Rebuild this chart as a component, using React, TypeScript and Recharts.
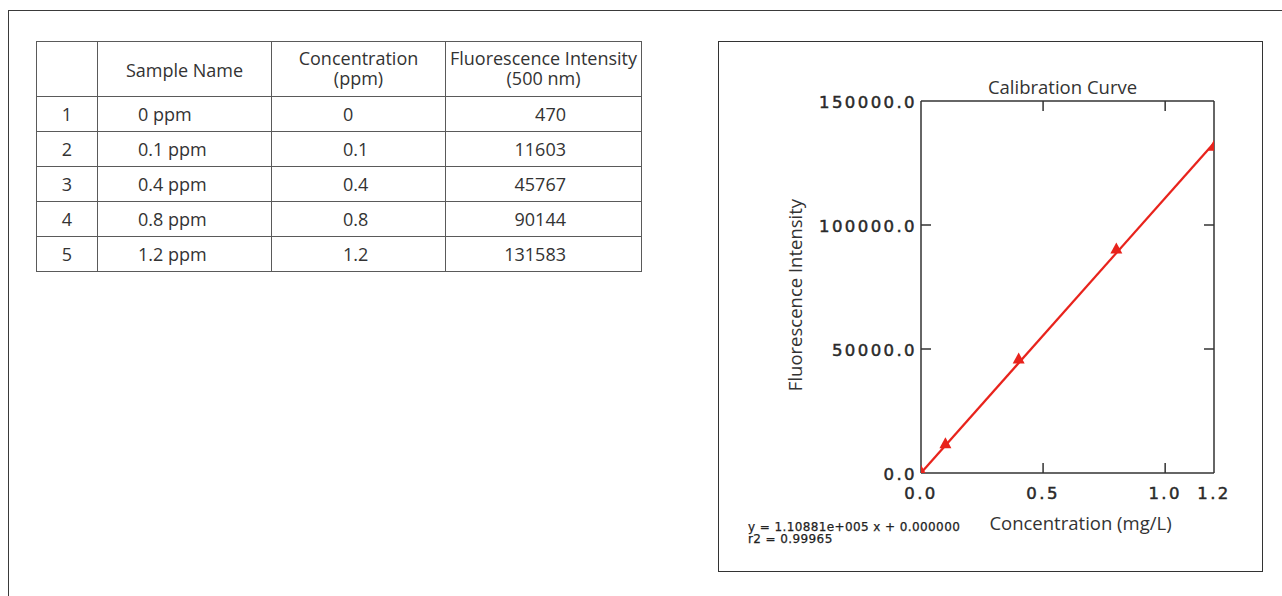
import React from 'react';
import { ComposedChart, XAxis, YAxis, Line, Scatter, Label } from 'recharts';

const sampleIds = ['1', '2', '3', '4', '5'];
const sampleNames = ['0 ppm', '0.1 ppm', '0.4 ppm', '0.8 ppm', '1.2 ppm'];
const concentrationLabels = ['0', '0.1', '0.4', '0.8', '1.2'];
const concentration = [0, 0.1, 0.4, 0.8, 1.2];
const intensity = [470, 11603, 45767, 90144, 131583];
const fitX = [0, 1.2];
const fitY = [0, 133057];
const xTicks = [0, 0.5, 1.0, 1.2];
const xInnerTicks = [0.5, 1.0];
const yTicks = [0, 50000, 100000, 150000];
const yInnerTicks = [50000, 100000];
const equationLines = ['y = 1.10881e+005 x + 0.000000', 'r2 = 0.99965'];

const points = concentration.map((c, i) => ({ x: c, y: intensity[i] }));
const fitLine = fitX.map((x, i) => ({ x, y: fitY[i] }));

const RED = '#e8231c';
const AXIS = '#333';
const TICK_FONT = '"DejaVu Sans", sans-serif';
const LABEL_FONT = '"Open Sans", sans-serif';

const Triangle = (props: any) => {
  const { cx, cy } = props;
  if (cx == null || cy == null) return null;
  return <path d={`M${cx},${cy - 7} L${cx + 6},${cy + 4} L${cx - 6},${cy + 4} Z`} fill={RED} />;
};

const tickText = {
  fontFamily: TICK_FONT,
  fontSize: 16.5,
  fontWeight: 400,
  letterSpacing: 2.4,
  fill: '#2a2a2a',
  stroke: '#2a2a2a',
  strokeWidth: 0.5,
};

const BottomTick = (props: any) => {
  const { x, y, payload } = props;
  const axisY = y;
  const inner = xInnerTicks.includes(payload.value);
  return (
    <g>
      {inner && <line x1={x} x2={x} y1={axisY} y2={axisY - 10} stroke={AXIS} strokeWidth={1.5} />}
      <text x={x} y={axisY + 20} textAnchor="middle" dominantBaseline="central" {...tickText}>
        {Number(payload.value).toFixed(1)}
      </text>
    </g>
  );
};

const TopTick = (props: any) => {
  const { x, y } = props;
  return <line x1={x} x2={x} y1={y} y2={y + 10} stroke={AXIS} strokeWidth={1.5} />;
};

const LeftTick = (props: any) => {
  const { x, y, payload } = props;
  const inner = yInnerTicks.includes(payload.value);
  return (
    <g>
      {inner && <line x1={x} x2={x + 10} y1={y} y2={y} stroke={AXIS} strokeWidth={1.5} />}
      <text x={x - 4} y={y + 1} textAnchor="end" dominantBaseline="central" {...tickText}>
        {Number(payload.value).toFixed(1)}
      </text>
    </g>
  );
};

const RightTick = (props: any) => {
  const { x, y } = props;
  return <line x1={x} x2={x - 10} y1={y} y2={y} stroke={AXIS} strokeWidth={1.5} />;
};

const cellBase: React.CSSProperties = {
  border: '1px solid #5a5a5a',
  padding: 0,
  height: 34,
  fontFamily: LABEL_FONT,
  fontSize: 18,
  color: '#333',
  lineHeight: '18px',
  verticalAlign: 'middle',
  boxSizing: 'border-box',
};

const headCell: React.CSSProperties = { ...cellBase, height: 55, fontWeight: 400, textAlign: 'center' };

export default function App() {
  return (
    <div style={{ position: 'absolute', left: 0, top: 0, width: 1282, height: 596, background: '#fff', overflow: 'hidden' }}>
      <div style={{ position: 'absolute', left: 8, top: 10, width: 1320, height: 640, border: '1px solid #3a3a3a', boxSizing: 'border-box' }} />
      <table
        style={{
          position: 'absolute',
          left: 36,
          top: 41,
          width: 606,
          borderCollapse: 'collapse',
          tableLayout: 'fixed',
        }}
      >
        <colgroup>
          <col style={{ width: 61 }} />
          <col style={{ width: 174 }} />
          <col style={{ width: 174 }} />
          <col style={{ width: 196 }} />
        </colgroup>
        <thead>
          <tr style={{ height: 55 }}>
            <th style={headCell}></th>
            <th style={{ ...headCell, paddingTop: 2 }}>Sample Name</th>
            <th style={{ ...headCell, lineHeight: '20px', paddingBottom: 3 }}>
              Concentration
              <br />
              (ppm)
            </th>
            <th style={{ ...headCell, lineHeight: '20px', paddingBottom: 3 }}>
              Fluorescence Intensity
              <br />
              (500 nm)
            </th>
          </tr>
        </thead>
        <tbody>
          {sampleIds.map((id, i) => (
            <tr key={id} style={{ height: 35 }}>
              <td style={{ ...cellBase, textAlign: 'center' }}>{id}</td>
              <td style={{ ...cellBase, textAlign: 'left', paddingLeft: 40 }}>{sampleNames[i]}</td>
              <td style={{ ...cellBase, textAlign: 'left', paddingLeft: 71 }}>{concentrationLabels[i]}</td>
              <td style={{ ...cellBase, textAlign: 'right', paddingRight: 75 }}>{intensity[i]}</td>
            </tr>
          ))}
        </tbody>
      </table>

      <div style={{ position: 'absolute', left: 718, top: 41, width: 545, height: 531, border: '1px solid #333', boxSizing: 'border-box' }}>
        <ComposedChart width={543} height={529} margin={{ top: 58, right: 47, bottom: 97, left: 201 }}>
          <XAxis
            xAxisId="b"
            dataKey="x"
            type="number"
            domain={[0, 1.2]}
            ticks={xTicks}
            allowDataOverflow
            height={1}
            tickSize={0}
            tickMargin={0}
            tick={<BottomTick />}
            axisLine={{ stroke: AXIS, strokeWidth: 1.5 }}
            tickLine={false}
            interval={0}
          >
            <Label
              content={(p: any) => {
                const vb = p.viewBox;
                return (
                  <g>
                    <text x={vb.x + vb.width / 2 + 13} y={vb.y + 49} textAnchor="middle" dominantBaseline="central" fontFamily={LABEL_FONT} fontSize={18.5} fill="#333">
                      Concentration (mg/L)
                    </text>
                    {equationLines.map((t, i) => (
                      <text key={t} x={vb.x - 173} y={vb.y + 54 + i * 12} fontFamily={TICK_FONT} fontSize={12} letterSpacing={0.4} dominantBaseline="central" fill="#222" stroke="#222" strokeWidth={0.25}>
                        {t}
                      </text>
                    ))}
                  </g>
                );
              }}
            />
          </XAxis>
          <XAxis
            xAxisId="t"
            dataKey="x"
            type="number"
            orientation="top"
            domain={[0, 1.2]}
            ticks={xInnerTicks}
            allowDataOverflow
            height={1}
            tickSize={0}
            tickMargin={0}
            tick={<TopTick />}
            axisLine={{ stroke: AXIS, strokeWidth: 1.5 }}
            tickLine={false}
            interval={0}
          >
            <Label
              content={(p: any) => {
                const vb = p.viewBox;
                return (
                  <text x={vb.x + vb.width / 2 - 5} y={vb.y - 14} textAnchor="middle" dominantBaseline="central" fontFamily={LABEL_FONT} fontSize={18.5} fill="#333">
                    Calibration Curve
                  </text>
                );
              }}
            />
          </XAxis>
          <YAxis
            yAxisId="l"
            type="number"
            domain={[0, 150000]}
            ticks={yTicks}
            allowDataOverflow
            width={1}
            tickSize={0}
            tickMargin={0}
            tick={<LeftTick />}
            axisLine={{ stroke: AXIS, strokeWidth: 1.5 }}
            tickLine={false}
            interval={0}
          >
            <Label
              content={(p: any) => {
                const vb = p.viewBox;
                const cx = vb.x - 126;
                const cy = vb.y + vb.height / 2 + 8;
                return (
                  <text x={cx} y={cy} transform={`rotate(-90 ${cx} ${cy})`} textAnchor="middle" dominantBaseline="central" fontFamily={LABEL_FONT} fontSize={18.5} fill="#333">
                    Fluorescence Intensity
                  </text>
                );
              }}
            />
          </YAxis>
          <YAxis
            yAxisId="r"
            orientation="right"
            type="number"
            domain={[0, 150000]}
            ticks={yInnerTicks}
            allowDataOverflow
            width={1}
            tickSize={0}
            tickMargin={0}
            tick={<RightTick />}
            axisLine={{ stroke: AXIS, strokeWidth: 1.5 }}
            tickLine={false}
            interval={0}
          />
          <Line
            xAxisId="b"
            yAxisId="l"
            data={fitLine}
            dataKey="y"
            type="linear"
            stroke={RED}
            strokeWidth={2.2}
            dot={false}
            activeDot={false}
            isAnimationActive={false}
          />
          <Scatter
            xAxisId="b"
            yAxisId="l"
            data={points}
            dataKey="y"
            shape={<Triangle />}
            isAnimationActive={false}
          />
        </ComposedChart>
      </div>
    </div>
  );
}
